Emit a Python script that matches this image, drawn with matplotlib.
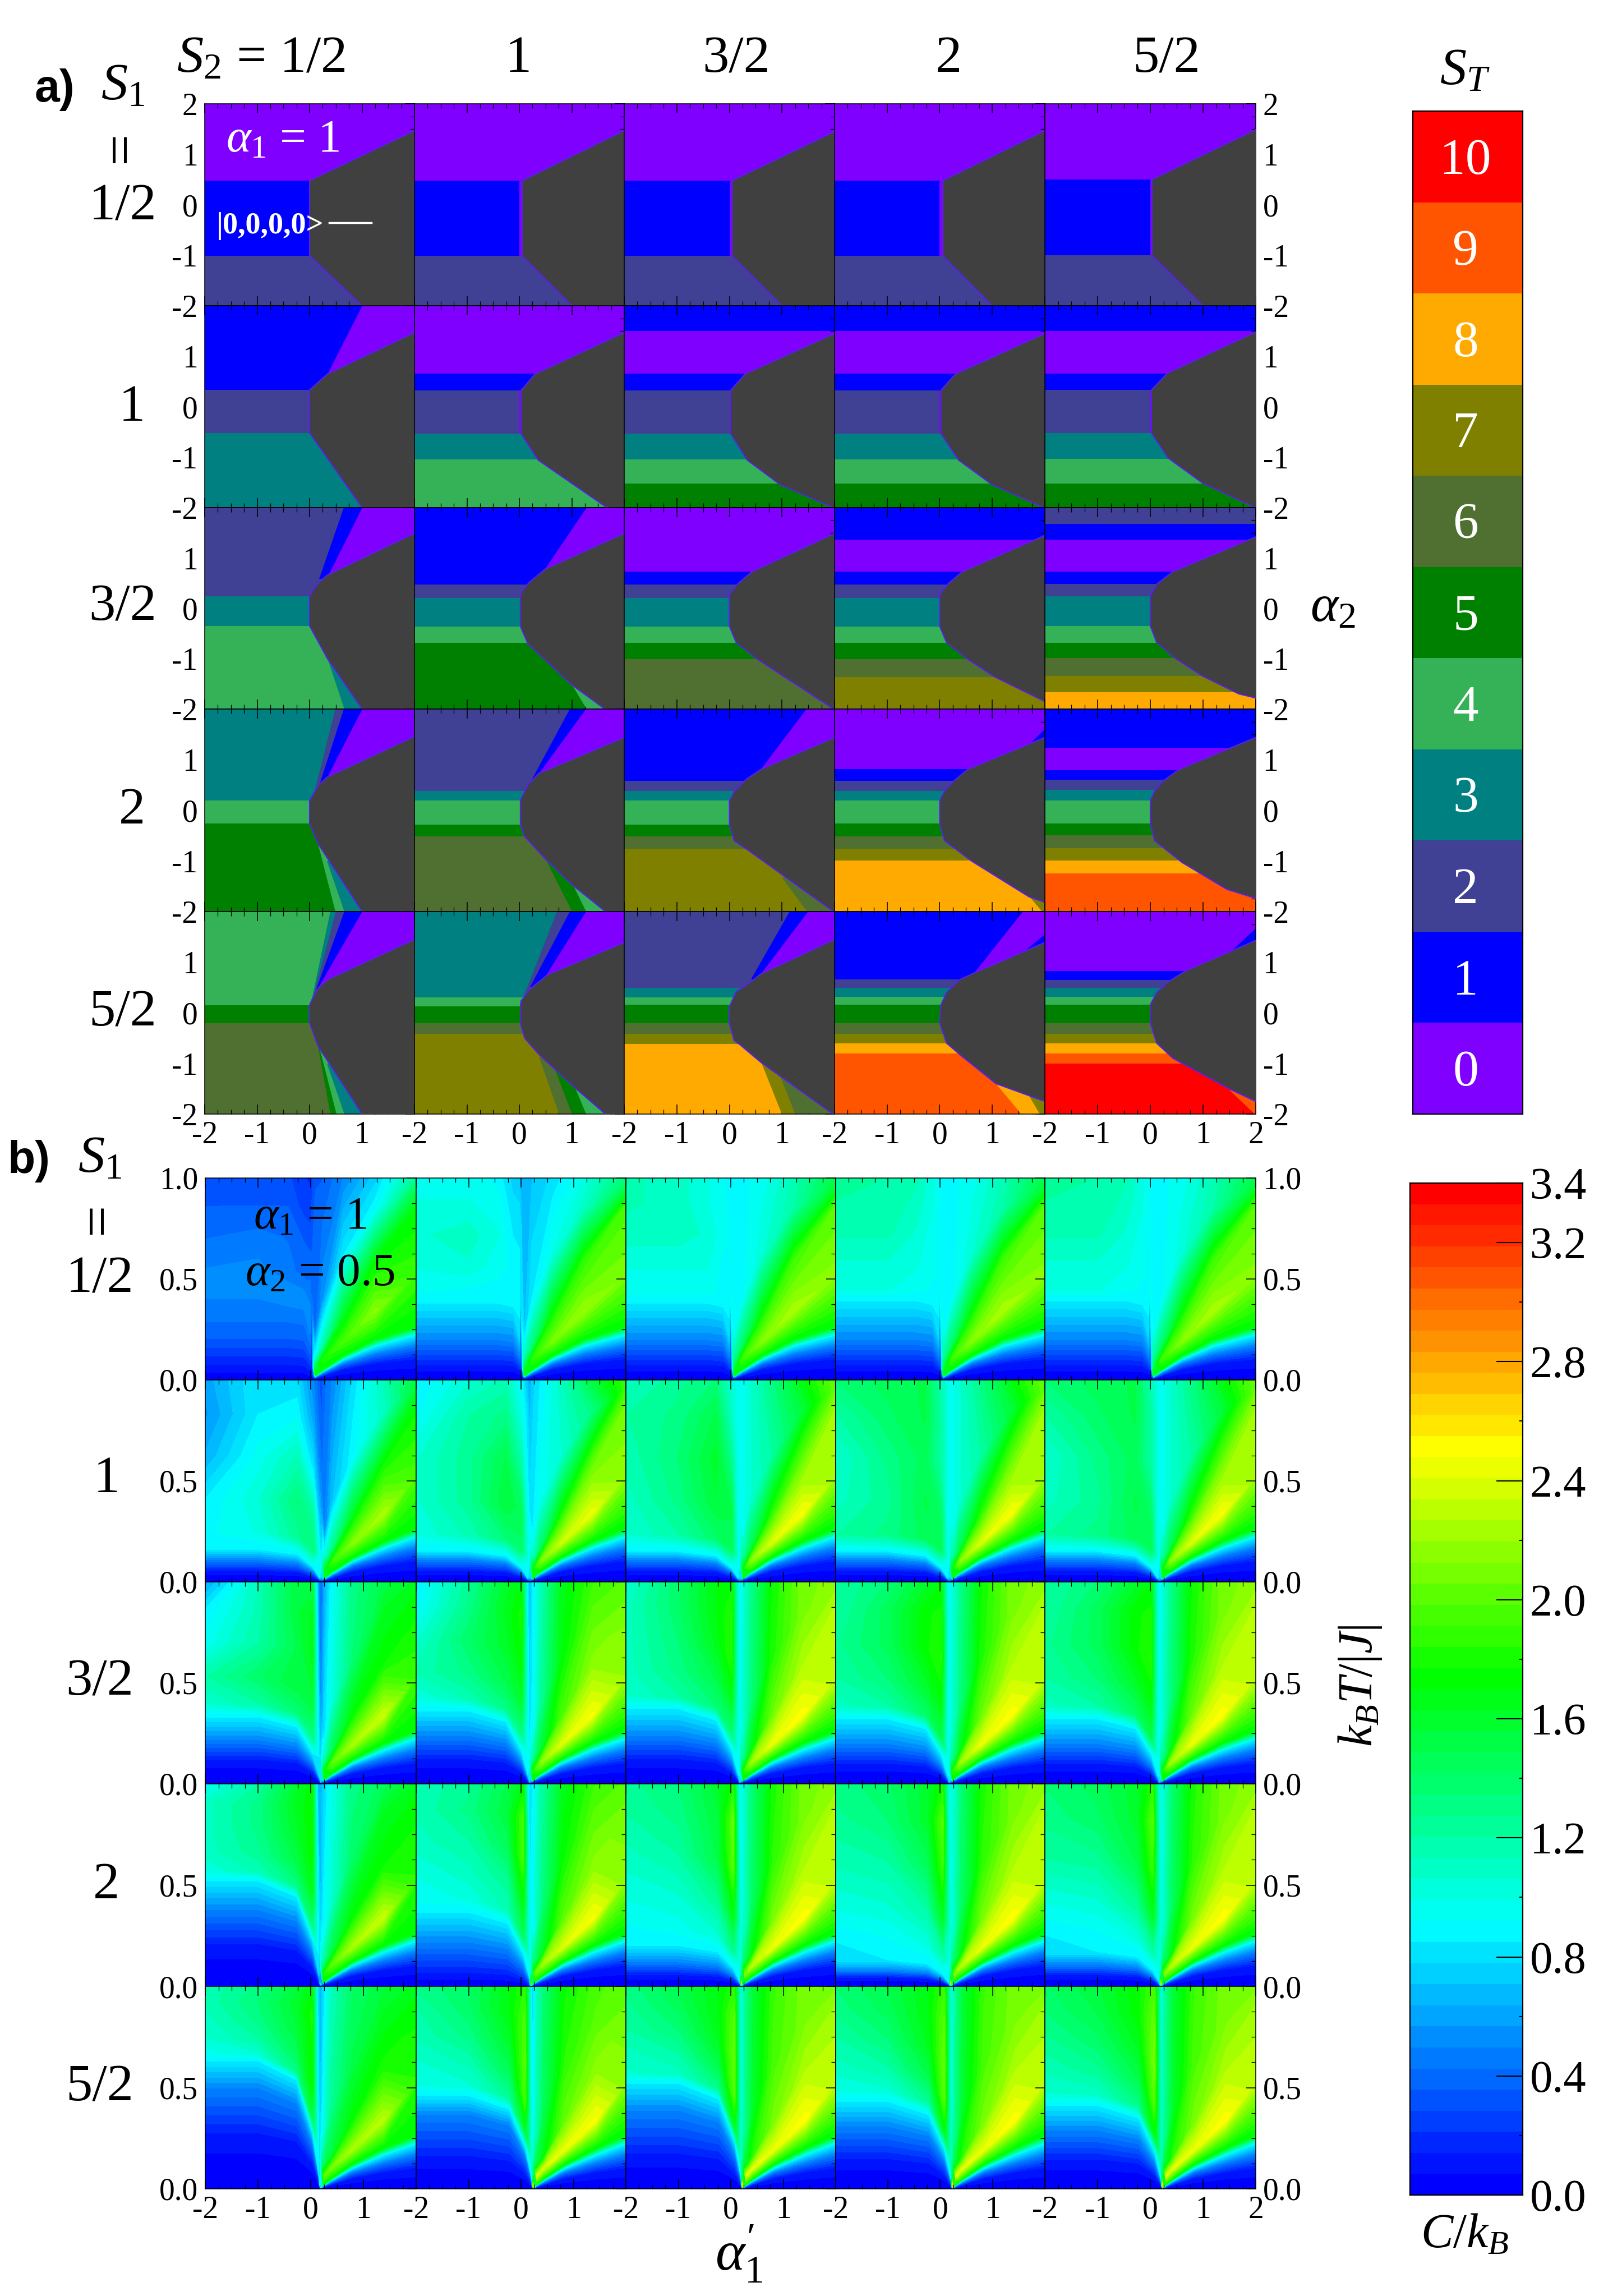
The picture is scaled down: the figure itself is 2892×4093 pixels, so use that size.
import numpy as np
import matplotlib
matplotlib.use("Agg")
import matplotlib.pyplot as plt
from matplotlib.colors import LinearSegmentedColormap, BoundaryNorm, ListedColormap
from matplotlib.ticker import MultipleLocator

plt.rcParams.update({
    "font.family": "Liberation Serif",
    "mathtext.fontset": "custom",
    "mathtext.rm": "Liberation Serif",
    "mathtext.it": "Liberation Serif:italic",
    "mathtext.bf": "Liberation Serif:bold",
})

W, H = 2892, 4093
DPI = 100

# ---------------------------------------------------------------- labels
S_LABELS = ["1/2", "1", "3/2", "2", "5/2"]
ST_COLORS = ["#8000FF", "#0000FF", "#404095", "#008080", "#35B258", "#008000",
             "#4F7030", "#808000", "#FFAA00", "#FF5500", "#FF0000"]
GRAY = "#404040"
EDGE = "#5A1EF5"

# ---------------------------------------------------------------- panel a: spin bands, top to bottom
A_STATES = [
    [[0, 1, 2], [0, 1, 2], [0, 1, 2], [0, 1, 2], [0, 1, 2]],
    [[1, 2, 3], [0, 1, 2, 3, 4], [1, 0, 1, 2, 3, 4, 5], [1, 0, 1, 2, 3, 4, 5], [1, 0, 1, 2, 3, 4, 5]],
    [[2, 3, 4], [1, 2, 3, 4, 5], [0, 1, 2, 3, 4, 5, 6], [1, 0, 1, 2, 3, 4, 5, 6, 7], [2, 1, 0, 1, 2, 3, 4, 5, 6, 7, 8]],
    [[3, 4, 5], [2, 3, 4, 5, 6], [1, 2, 3, 4, 5, 6, 7], [0, 1, 2, 3, 4, 5, 6, 7, 8], [1, 0, 1, 2, 3, 4, 5, 6, 7, 8, 9]],
    [[4, 5, 6], [3, 4, 5, 6, 7], [2, 3, 4, 5, 6, 7, 8], [1, 2, 3, 4, 5, 6, 7, 8, 9], [0, 1, 2, 3, 4, 5, 6, 7, 8, 9, 10]],
]
A_BREAKS = [
    [[.48, -1.01], [.48, -1.01], [.48, -1.01], [.48, -1.01], [.5, -1.0]],
    [[.33, -.52], [.65, .32, -.53, -1.04], [1.5, .65, .32, -.53, -1.04, -1.52],
     [1.5, .65, .32, -.53, -1.04, -1.52], [1.5, .66, .33, -.52, -1.03, -1.52]],
    [[.24, -.35], [.47, .21, -.36, -.68], [.73, .47, .21, -.36, -.68, -1.01],
     [1.36, .73, .47, .21, -.36, -.68, -1.01, -1.36],
     [1.68, 1.36, .73, .49, .24, -.35, -.68, -.99, -1.34, -1.67]],
    [[.19, -.26], [.38, .19, -.28, -.51], [.58, .38, .19, -.28, -.51, -.76],
     [.81, .58, .38, .19, -.26, -.51, -.76, -.99],
     [1.24, .79, .6, .4, .19, -.26, -.49, -.75, -.99, -1.25]],
    [[.15, -.2], [.31, .13, -.21, -.41], [.49, .31, .16, -.21, -.41, -.61],
     [.66, .49, .32, .16, -.2, -.41, -.6, -.8],
     [.83, .65, .49, .32, .16, -.2, -.41, -.6, -.8, -1.0]],
]
# wedges: state, far end (x, y), pivot on the gray boundary (x, y)
A_WEDGES = [
    [[], [(0, 0, .48, 0, -1.01)], [(0, 0, .48, 0, -1.01)], [(0, 0, .48, 0, -1.01)], [(0, 0, .5, 0, -1.0)]],
    [[(0, 1.0, 2, .34, .65)],
     [(0, 0, .32, 0, -.53)], [(0, 0, .32, 0, -.53)], [(0, 0, .32, 0, -.53)], [(0, 0, .33, 0, -.52)]],
    [[(1, .65, 2, .18, .59), (0, 1.0, 2, .37, .68), (3, .66, -2, .34, -1.0)],
     [(0, 1.28, 2, .49, .78), (4, 1.28, -2, 1.0, -1.52)], [], [], []],
    [[(2, .49, 2, .1, .38), (1, .65, 2, .16, .42), (0, 1.0, 2, .34, .66), (4, .49, -2, .16, -.66), (3, .66, -2, .33, -1.0)],
     [(1, .96, 2, .14, .42), (0, 1.27, 2, .37, .73), (5, 1.0, -2, .52, -1.01), (4, 1.27, -2, 1.03, -1.48)],
     [(0, 1.47, 2, .6, .81), (6, 1.48, -2, 1.0, -1.32)],
     [(1, 2, 1.6, 1.65, 1.25), (7, 1.95, -2, 1.72, -1.72)],
     []],
    [[(3, .4, 2, .03, .22), (2, .5, 2, .08, .35), (1, .66, 2, .13, .47), (0, 1.0, 2, .17, .5),
      (5, .4, -2, .16, -.66), (4, .51, -2, .2, -.75), (3, .66, -2, .33, -1.0)],
     [(2, .72, 2, .1, .36), (1, .96, 2, .2, .5), (0, 1.27, 2, .5, .73),
      (6, .76, -2, .37, -.87), (5, 1.0, -2, .65, -1.05), (4, 1.27, -2, 1.06, -1.47)],
     [(1, 1.15, 2, .41, .66), (0, 1.5, 2, .6, .77), (7, 1.0, -2, .6, -.97), (6, 1.25, -2, .95, -1.22)],
     [(0, 1.58, 2, .68, .81), (1, 2, 1.55, 1.6, 1.2), (8, 1.55, -2, 1.07, -1.4), (7, 1.9, -2, 1.7, -1.65)],
     [(1, 2, 1.67, 1.5, 1.18), (9, 1.98, -2, 1.5, -1.52)]],
]
# gray region: its boundary from the top right down to the bottom
A_GRAY = [
    [[(2, 1.47), (0, .48), (0, -1.01), (1.0, -2)],
     [(2, 1.47), (.05, .48), (.05, -1.01), (1.0, -2)],
     [(2, 1.45), (.05, .48), (.05, -1.01), (1.0, -2)],
     [(2, 1.47), (.06, .48), (.06, -1.01), (1.0, -2)],
     [(2, 1.49), (.03, .5), (.03, -1.0), (1.0, -2)]],
    [[(2, 1.47), (.34, .65), (0, .33), (0, -.52), (1.0, -2)],
     [(2, 1.47), (.3, .65), (.03, .32), (.03, -.53), (.36, -1.06), (1.67, -2)],
     [(2, 1.45), (.3, .65), (.02, .32), (.02, -.53), (.34, -1.06), (.96, -1.54), (1.98, -2)],
     [(2, 1.45), (.3, .65), (.02, .32), (.02, -.53), (.36, -1.06), (.99, -1.54), (1.98, -2)],
     [(2, 1.48), (.33, .67), (.02, .33), (.02, -.52), (.34, -1.02), (1.0, -1.52), (2, -2)]],
    [[(2, 1.49), (.37, .68), (.3, .63), (.14, .47), (.02, .28), (0, .24), (0, -.35), (.34, -1.0), (1.0, -2)],
     [(2, 1.49), (.49, .78), (.18, .51), (.02, .28), (.02, -.36), (.16, -.7), (1.0, -1.52), (1.63, -2)],
     [(2, 1.49), (.43, .73), (.17, .5), (0, .27), (0, -.36), (.13, -.68), (.53, -1.01), (1.98, -2)],
     [(2, 1.45), (.43, .73), (.17, .5), (0, .27), (0, -.36), (.13, -.68), (.53, -1.01), (1.04, -1.36), (2, -1.85)],
     [(2, 1.42), (.43, .73), (.13, .49), (0, .24), (0, -.35), (.12, -.68), (.47, -.99), (.98, -1.34), (1.68, -1.7), (2, -1.78)]],
    [[(2, 1.46), (.34, .66), (.17, .5), (0, .19), (0, -.26), (.16, -.66), (1.0, -2)],
     [(2, 1.44), (.37, .73), (.16, .5), (.02, .2), (.02, -.28), (.1, -.52), (.53, -1.0), (1.04, -1.5), (1.64, -2)],
     [(2, 1.44), (.6, .81), (.33, .62), (.1, .38), (0, .19), (0, -.28), (.09, -.6), (.37, -.8), (1.0, -1.27), (1.98, -2)],
     [(2, 1.44), (.53, .81), (.29, .6), (.09, .38), (0, .19), (0, -.26), (.09, -.6), (.6, -1.0), (1.7, -1.71), (2, -1.82)],
     [(2, 1.44), (.55, .81), (.27, .6), (.08, .38), (0, .19), (0, -.26), (.08, -.6), (.6, -1.03), (1.45, -1.56), (2, -1.74)]],
    [[(2, 1.45), (.35, .66), (.17, .5), (.04, .25), (0, .15), (0, -.2), (.16, -.66), (1.0, -2)],
     [(2, 1.39), (.55, .76), (.2, .47), (.03, .23), (.02, .13), (.02, -.21), (.1, -.5), (.37, -.82), (1.08, -1.5), (1.64, -2)],
     [(2, 1.45), (.6, .77), (.3, .53), (.13, .42), (0, .12), (0, -.21), (.09, -.55), (.2, -.63), (.6, -.98), (1.97, -2)],
     [(2, 1.39), (.68, .8), (.37, .65), (.13, .4), (.02, .15), (0, -.2), (.13, -.6), (.41, -.85), (1.07, -1.4), (2, -1.75)],
     [(2, 1.43), (.67, .83), (.35, .62), (.12, .4), (0, .16), (0, -.2), (.12, -.6), (.43, -.9), (1.53, -1.52), (2, -1.75)]],
]

# ---------------------------------------------------------------- panel b: heat capacity
B_APEX = [[.02, 0, 0, 0, 0], [.2, .16, .17, .17, .17], [.19, .16, .17, .17, .17],
          [.18, .19, .2, .2, .2], [.18, .23, .22, .23, .23]]
# temperature where the left part reaches C = .1, .5, .85
B_LOW_T = [
    [(.05, .2, .35), (.06, .2, .38), (.06, .2, .38), (.06, .2, .39), (.06, .2, .39)],
    [(.05, .11, .16), (.05, .11, .15), (.05, .11, .15), (.05, .11, .15), (.05, .11, .15)],
    [(.11, .22, .33), (.11, .24, .36), (.11, .24, .37), (.09, .2, .32), (.09, .2, .32)],
    [(.19, .38, .52), (.05, .22, .365), (.05, .12, .2), (.04, .08, .13), (.05, .11, .17)],
    [(.25, .5, .63), (.14, .37, .46), (.15, .39, .52), (.13, .31, .43), (.13, .29, .41)],
]
B_LOW_C = (.1, .5, .85)
B_LOW_C_FIRST = (.1, .35, .48)
# left part: rows bottom to top, columns x = -2, -1, apex-.45, apex-.15, apex-.03
L11 = [[.5, .5, .55, .55, .55], [.5, .52, .45, .4, .45], [.42, .45, .42, .35, .35], [.35, .35, .35, .25, .25], [.3, .3, .3, .22, .2]]
L12 = [[.95, .9, .9, .9, .85], [1.0, 1.05, .95, .9, .9], [1.05, 1.1, 1.0, .85, .85], [1.0, 1.0, .95, .8, .8], [.95, .95, .9, .75, .7]]
L13 = [[.95, .95, .95, .9, .85], [1.0, 1.0, 1.0, .9, .9], [1.1, 1.1, 1.05, .95, .9], [1.15, 1.1, 1.0, .95, .9], [1.15, 1.1, 1.0, .95, .85]]
L14 = [[1.0, 1.0, .95, .9, .85], [1.05, 1.05, 1.0, .95, .9], [1.15, 1.15, 1.05, .95, .9], [1.2, 1.2, 1.1, 1.0, .9], [1.25, 1.2, 1.15, 1.0, .95]]
L21 = [[.9, 1.0, 1.25, 1.35, .95], [.85, 1.05, 1.35, 1.2, .7], [.65, .95, 1.15, .8, .5], [.55, .85, .9, .6, .4], [.6, .85, .8, .5, .35]]
L22 = [[1.0, 1.15, 1.35, 1.4, 1.0], [1.05, 1.25, 1.55, 1.45, .95], [1.05, 1.25, 1.5, 1.2, .85], [.9, 1.2, 1.3, 1.0, .8], [.85, 1.05, 1.15, .9, .7]]
L23 = [[1.05, 1.2, 1.4, 1.45, 1.0], [1.1, 1.3, 1.55, 1.5, .95], [1.15, 1.35, 1.6, 1.3, .95], [1.2, 1.3, 1.5, 1.1, .95], [1.1, 1.25, 1.35, 1.05, .95]]
L24 = [[1.2, 1.3, 1.45, 1.45, 1.0], [1.1, 1.25, 1.5, 1.4, .95], [1.05, 1.3, 1.45, 1.2, 1.0], [1.2, 1.4, 1.5, 1.2, 1.0], [1.35, 1.45, 1.5, 1.15, 1.0]]
L31 = [[1.05, 1.2, 1.35, 1.3, .85], [1.2, 1.4, 1.55, 1.55, .75], [.95, 1.2, 1.5, 1.65, .65], [.85, 1.15, 1.55, 1.65, .55], [.6, 1.15, 1.55, 1.5, .5]]
L32 = [[1.0, 1.15, 1.3, 1.3, .9], [1.15, 1.3, 1.5, 1.6, .95], [1.05, 1.4, 1.6, 1.75, .95], [.9, 1.3, 1.65, 1.8, .9], [.85, 1.25, 1.6, 1.7, .85]]
L33 = [[1.05, 1.2, 1.35, 1.35, .95], [1.1, 1.3, 1.5, 1.65, 1.0], [1.1, 1.35, 1.65, 1.85, 1.05], [1.1, 1.4, 1.7, 1.85, 1.05], [1.05, 1.4, 1.7, 1.75, 1.0]]
L34 = [[1.1, 1.2, 1.4, 1.5, 1.0], [1.2, 1.35, 1.6, 1.7, 1.0], [1.25, 1.45, 1.75, 1.85, 1.05], [1.2, 1.45, 1.75, 1.8, 1.05], [1.2, 1.35, 1.6, 1.7, 1.0]]
L41 = [[1.0, 1.15, 1.3, 1.35, .85], [1.1, 1.25, 1.5, 1.65, .85], [1.1, 1.3, 1.6, 1.75, .8], [1.1, 1.3, 1.65, 1.75, .7], [.95, 1.2, 1.6, 1.75, .6]]
L42 = [[.95, 1.0, 1.15, 1.45, 1.0], [1.0, 1.1, 1.25, 1.7, .95], [1.1, 1.2, 1.45, 1.95, .9], [1.15, 1.3, 1.55, 1.95, .85], [1.15, 1.25, 1.5, 1.7, .8]]
L43 = [[.9, .95, 1.05, 1.3, 1.0], [1.0, 1.05, 1.25, 1.7, 1.1], [1.1, 1.2, 1.5, 2.0, 1.05], [1.2, 1.3, 1.55, 2.05, .95], [1.25, 1.35, 1.6, 1.8, .95]]
L44 = [[.85, .9, 1.0, 1.2, 1.0], [1.0, 1.05, 1.2, 1.65, 1.1], [1.15, 1.2, 1.45, 1.9, 1.1], [1.25, 1.35, 1.6, 2.0, 1.0], [1.3, 1.4, 1.6, 1.8, .95]]
L45 = [[.85, .9, 1.0, 1.2, 1.0], [1.0, 1.05, 1.25, 1.65, 1.1], [1.2, 1.25, 1.5, 1.9, 1.1], [1.3, 1.4, 1.6, 2.0, 1.05], [1.35, 1.45, 1.6, 1.85, 1.0]]
L51 = [[.95, 1.05, 1.3, 1.5, .9], [1.05, 1.2, 1.45, 1.75, .85], [1.1, 1.3, 1.55, 1.75, .8], [1.15, 1.35, 1.6, 1.8, .75], [1.15, 1.3, 1.55, 1.7, .75]]
L52 = [[1.0, 1.05, 1.25, 1.6, 1.05], [1.05, 1.15, 1.45, 1.95, .95], [1.15, 1.3, 1.6, 2.0, .9], [1.2, 1.4, 1.7, 1.95, .9], [1.3, 1.4, 1.7, 1.85, .85]]
L53 = [[1.05, 1.1, 1.3, 1.65, 1.1], [1.1, 1.2, 1.5, 2.0, 1.05], [1.2, 1.35, 1.65, 2.05, 1.0], [1.25, 1.45, 1.7, 2.0, 1.0], [1.3, 1.5, 1.7, 1.85, 1.0]]
L54 = [[1.0, 1.05, 1.25, 1.65, 1.1], [1.1, 1.2, 1.5, 2.0, 1.05], [1.2, 1.35, 1.65, 2.05, 1.05], [1.3, 1.45, 1.7, 2.0, 1.05], [1.35, 1.5, 1.7, 1.9, 1.05]]
L55 = [[1.05, 1.1, 1.3, 1.7, 1.15], [1.15, 1.25, 1.5, 2.0, 1.1], [1.25, 1.4, 1.65, 2.1, 1.1], [1.35, 1.5, 1.75, 2.05, 1.05], [1.4, 1.55, 1.75, 1.95, 1.05]]
B_LEFT = [[L11, L12, L13, L14, L14], [L21, L22, L23, L24, L24], [L31, L32, L33, L34, L34],
          [L41, L42, L43, L44, L45], [L51, L52, L53, L54, L55]]

# apex column, temperatures and values
APEX_T = [.01, .02, .04, .08, .15, .35, .65, 1.0]
APX = {"A": [.03, .05, .08, .12, .25, .45, .35, .25], "B": [.03, .05, .08, .12, .3, .8, .85, .65],
       "C": [.03, .05, .08, .12, .3, .85, .95, .9], "D": [.5, .7, .85, .85, .8, .6, .4, .3],
       "E": [.5, .7, .85, .85, .9, .85, .75, .6], "F": [.6, .75, .85, .85, .9, .9, .95, .95],
       "G": [.7, .8, .85, .8, .7, .55, .45, .4], "H": [.7, .8, .85, .85, .8, .75, .75, .65],
       "I": [.75, .85, .85, .9, .9, .9, .95, .95], "J": [1, .6, .5, .6, .8, .7, .65, .65],
       "K": [2, 2, 1.6, 1, .85, .85, .85, .8], "L": [2.4, 2.3, 1.8, 1.2, .95, .95, .95, 1.0],
       "M": [1.5, 1.1, .9, .75, .75, .7, .65, .65], "N": [2.6, 2.4, 1.8, 1.2, .95, .85, .85, .8],
       "O": [2.8, 2.6, 2.0, 1.4, 1.1, 1.05, 1.05, 1.05]}
# right part: offsets from apex (the last column is x = 2); temperature of each mesh row
RIGHT_OFF = [.06, .2, .6, 1.2]
RIGHT_T = [[.007, .018, .05, .08, .10],
           [.011, .03, .08, .125, .165],
           [.015, .04, .10, .165, .22],
           [.018, .048, .12, .20, .265],
           [.06, .10, .19, .34, .52],
           [.12, .16, .33, .60, .86],
           [.25, .40, .62, .85, .95],
           [1.0, 1.0, 1.0, 1.0, 1.0]]
RIGHT_LOW = [.12, .45, .85, 1.7]
RGT = {"A": [[1.5, 1.8, 1.95, 2.15, 1.9], [.9, 1.2, 1.6, 1.7, 1.7], [.4, .55, .85, .9, 1.45], [.35, .35, .5, .75, 1.25]],
       "B": [[1.5, 1.85, 2.1, 2.2, 2.1], [1.1, 1.35, 1.75, 1.85, 1.95], [.7, .85, 1.0, 1.1, 1.5], [.7, .7, .8, 1.0, 1.35]],
       "C": [[1.5, 1.9, 2.15, 2.25, 2.15], [1.2, 1.4, 1.75, 1.9, 2.0], [.85, .9, 1.05, 1.2, 1.6], [.85, .9, .95, 1.15, 1.5]],
       "D": [[1.6, 1.9, 2.15, 2.25, 1.95], [1.05, 1.3, 1.65, 1.75, 1.75], [.5, .7, .9, 1.1, 1.6], [.4, .5, .8, 1.15, 1.55]],
       "E": [[1.7, 2.1, 2.35, 2.45, 2.15], [1.1, 1.4, 1.8, 2.0, 2.1], [.85, .95, 1.05, 1.3, 1.9], [.75, .85, 1.1, 1.55, 1.9]],
       "F": [[1.7, 2.15, 2.4, 2.5, 2.2], [1.2, 1.5, 1.85, 2.05, 2.2], [.95, 1.05, 1.2, 1.55, 2.05], [.95, 1.05, 1.3, 1.7, 2.05]],
       "G": [[1.7, 2.0, 2.25, 2.35, 1.9], [1.1, 1.45, 1.75, 1.75, 1.75], [.8, 1.0, 1.35, 1.65, 1.7], [.6, .9, 1.3, 1.5, 1.65]],
       "H": [[1.8, 2.15, 2.4, 2.5, 2.2], [1.2, 1.55, 1.95, 2.15, 2.1], [.9, 1.2, 1.7, 2.0, 2.0], [.85, 1.1, 1.65, 1.9, 2.0]],
       "I": [[1.8, 2.2, 2.45, 2.52, 2.3], [1.25, 1.65, 2.05, 2.25, 2.3], [1.05, 1.3, 1.8, 2.1, 2.2], [1.0, 1.25, 1.75, 2.1, 2.15]],
       "J": [[1.8, 2.0, 2.25, 2.35, 1.85], [1.2, 1.5, 1.75, 1.75, 1.75], [.9, 1.05, 1.4, 1.65, 1.7], [.75, .95, 1.3, 1.45, 1.65]],
       "K": [[2.0, 2.2, 2.4, 2.5, 2.15], [1.35, 1.6, 2.0, 2.15, 2.1], [1.0, 1.3, 1.75, 2.0, 2.0], [.95, 1.2, 1.65, 1.9, 2.0]],
       "L": [[2.1, 2.3, 2.45, 2.52, 2.3], [1.4, 1.7, 2.1, 2.25, 2.3], [1.1, 1.4, 1.85, 2.1, 2.2], [1.05, 1.35, 1.8, 2.1, 2.15]],
       "M": [[2.0, 2.1, 2.25, 2.3, 1.85], [1.4, 1.55, 1.75, 1.8, 1.75], [1.0, 1.25, 1.5, 1.65, 1.7], [.8, 1.1, 1.4, 1.55, 1.65]],
       "N": [[2.4, 2.4, 2.45, 2.5, 2.15], [1.5, 1.7, 2.05, 2.15, 2.1], [1.15, 1.45, 1.85, 2.0, 2.0], [1.1, 1.35, 1.75, 1.95, 2.05]],
       "O": [[2.4, 2.45, 2.45, 2.52, 2.3], [1.6, 1.85, 2.1, 2.25, 2.25], [1.3, 1.6, 1.95, 2.1, 2.15], [1.25, 1.55, 1.9, 2.1, 2.1]]}
B_TYPE = ["ABCCC", "DEFFF", "GHIII", "JKLLL", "MNOOO"]
LEFT_SCALE = [1, 1, .85, .45, .12]
LEFT_SCALE_FIRST_ROW = [1, 1, 1, .95, .6]
LEFT_OFF = [.45, .15, .03]
UP_FRAC = [.1, .3, .55, .8, 1.0]

# ---------------------------------------------------------------- geometry
AX = [365, 739, 1113, 1488, 1863, 2239]
AY = [185, 545, 905, 1264, 1625, 1986]
BX = [366, 742, 1116, 1490, 1863, 2239]
BY = [2100, 2460, 2820, 3180, 3541, 3902]

fig = plt.figure(figsize=(W / DPI, H / DPI), dpi=DPI, facecolor="white")


def axpx(x0, y0, x1, y1):
    return fig.add_axes([x0 / W, 1 - y1 / H, (x1 - x0) / W, (y1 - y0) / H])


def t(x, y, s, size, **kw):
    kw.setdefault("ha", "center")
    kw.setdefault("va", "center")
    fig.text(x / W, 1 - y / H, s, fontsize=size, **kw)


def style(ax, yminor, ymajor):
    ax.xaxis.set_major_locator(MultipleLocator(1))
    ax.xaxis.set_minor_locator(MultipleLocator(.25))
    ax.yaxis.set_major_locator(MultipleLocator(ymajor))
    ax.yaxis.set_minor_locator(MultipleLocator(yminor))
    ax.tick_params(which="major", direction="in", length=12, width=1.1, top=True, bottom=True,
                   right=True, left=False, labelleft=False, labelbottom=False, labelsize=40, pad=9)
    ax.tick_params(which="minor", direction="in", length=6, width=.9, top=True, bottom=True,
                   right=True, left=False)
    for s in ax.spines.values():
        s.set_linewidth(1.1)


# ---------------------------------------------------------------- panel a
for r in range(5):
    for c in range(5):
        ax = axpx(AX[c], AY[r], AX[c + 1], AY[r + 1])
        ax.set_xlim(-2, 2)
        ax.set_ylim(-2, 2)
        edges = [2] + A_BREAKS[r][c] + [-2]
        for k, st in enumerate(A_STATES[r][c]):
            ax.axhspan(edges[k + 1], edges[k], color=ST_COLORS[st], lw=0, zorder=1)
        for st, ex, ey, px, py in A_WEDGES[r][c]:
            ax.fill([ex, 2, 2, px], [ey, ey, py, py], color=ST_COLORS[st], lw=0, zorder=2)
        gx = [p[0] for p in A_GRAY[r][c]]
        gy = [p[1] for p in A_GRAY[r][c]]
        ax.fill(gx + [2], gy + [gy[-1]], color=GRAY, lw=0, zorder=3)
        ax.plot(gx, gy, color=EDGE, lw=1.5, zorder=4, solid_joinstyle="round")
        style(ax, .25, 1)
        ax.set_yticks([-2, -1, 0, 1, 2])
        ax.set_yticklabels(["-2", "-1", "0", "1", "2" if r == 0 else ""])
        ax.set_xticks([-2, -1, 0, 1, 2])
        ax.set_xticklabels(["-2", "-1", "0", "1", "2" if c == 4 else ""])
        if c == 0:
            ax.tick_params(labelleft=True, left=False)
        if c == 4:
            ax.tick_params(labelright=True)
        if r == 4:
            ax.tick_params(labelbottom=True)
        if r == 0 and c == 0:
            ax.plot([.37, 1.18], [-.35, -.35], color="white", lw=2.5, zorder=6)

# ---------------------------------------------------------------- panel b
C_LEVELS = np.linspace(0, 3.4, 49)
CMAP = LinearSegmentedColormap.from_list(
    "ck", [(0, "#0000FF"), (.26, "#00FFFF"), (.51, "#00FF00"), (.74, "#FFFF00"), (1, "#FF0000")], N=256)
NORM = BoundaryNorm(C_LEVELS, CMAP.N)

for r in range(5):
    for c in range(5):
        ax = axpx(BX[c], BY[r], BX[c + 1], BY[r + 1])
        apex = B_APEX[r][c]
        xs = [-2, -1] + [apex - o for o in LEFT_OFF] + [apex] + [apex + o for o in RIGHT_OFF] + [2]
        t1, t2, t3 = B_LOW_T[r][c]
        low_c = B_LOW_C_FIRST if (r == 0 and c == 0) else B_LOW_C
        left = B_LEFT[r][c]
        key = B_TYPE[r][c]
        scales = LEFT_SCALE_FIRST_ROW if r == 0 else LEFT_SCALE
        T = np.zeros((9, len(xs)))
        Z = np.zeros((9, len(xs)))
        for i, s in enumerate(scales):
            T[1:4, i] = [s * t1, s * t2, s * t3]
            Z[1:4, i] = low_c
            for j, f in enumerate(UP_FRAC):
                T[4 + j, i] = s * t3 + f * (1 - s * t3)
                Z[4 + j, i] = left[j][i]
        T[1:, 5] = APEX_T
        Z[1:, 5] = APX[key]
        for j in range(8):
            for i in range(5):
                T[j + 1, 6 + i] = RIGHT_T[j][i]
                Z[j + 1, 6 + i] = RIGHT_LOW[j] if j < 4 else RGT[key][j - 4][i]
        X = np.tile(np.array(xs), (9, 1))
        ax.contourf(X, T, Z, levels=C_LEVELS, cmap=CMAP, norm=NORM, extend="both")
        ax.set_xlim(-2, 2)
        ax.set_ylim(0, 1)
        style(ax, .125, .5)
        ax.set_yticks([0, .5, 1])
        ax.set_yticklabels(["0.0", "0.5", "1.0" if r == 0 else ""])
        ax.set_xticks([-2, -1, 0, 1, 2])
        ax.set_xticklabels(["-2", "-1", "0", "1", "2" if c == 4 else ""])
        if c == 0:
            ax.tick_params(labelleft=True)
        if c == 4:
            ax.tick_params(labelright=True)
        if r == 4:
            ax.tick_params(labelbottom=True)

# ---------------------------------------------------------------- colour bars
ST_VALUES = np.arange(11)
cb = axpx(2519, 198, 2715, 1986)
cb.pcolormesh([0, 1], np.arange(12), ST_VALUES.reshape(-1, 1),
              cmap=ListedColormap(ST_COLORS), vmin=-.5, vmax=10.5)
cb.set_ylim(0, 11)
cb.set_xticks([])
cb.set_yticks([])
for st in ST_VALUES:
    cb.text(.48, st + .45, str(st), color="white", fontsize=66, ha="center", va="center")
for s in cb.spines.values():
    s.set_linewidth(1.6)

cb2 = axpx(2514, 2109, 2715, 3913)
mids = (C_LEVELS[:-1] + C_LEVELS[1:]) / 2
cb2.pcolormesh([0, 1], C_LEVELS, mids.reshape(-1, 1), cmap=CMAP, norm=NORM)
cb2.set_xticks([])
cb2.set_ylim(0, 3.4)
cb2.yaxis.tick_right()
cb2.set_yticks([0, .4, .8, 1.2, 1.6, 2.0, 2.4, 2.8, 3.2, 3.4])
cb2.set_yticklabels(["0.0", "0.4", "0.8", "1.2", "1.6", "2.0", "2.4", "2.8", "3.2", "3.4"], fontsize=58)
cb2.yaxis.set_minor_locator(MultipleLocator(.2))
cb2.tick_params(which="major", direction="in", length=34, width=1.5, pad=9)
cb2.tick_params(which="minor", direction="in", length=4, width=1.5)
for s in cb2.spines.values():
    s.set_linewidth(1.6)

# ---------------------------------------------------------------- texts
SANS = "Liberation Sans"
t(97, 160, "a)", 58, family=SANS, weight="bold")
t(52, 2070, "b)", 58, family=SANS, weight="bold")
t(219, 155, r"$S_{\mathit{1}}$", 68)
t(219, 262, "=", 72, rotation=90)
t(178, 2067, r"$S_{\mathit{1}}$", 68)
t(178, 2172, "=", 72, rotation=90)
t(465, 106, r"$S_{\mathit{2}}$ = 1/2", 68)
for xx, s in zip([924, 1313, 1691, 2080], S_LABELS[1:]):
    t(xx, 106, s, 68)
for yy, xx, s in zip([369, 727, 1083, 1446, 1806], [219, 235, 219, 235, 219], S_LABELS):
    t(xx, yy, s, 68)
for yy, xx, s in zip([2281, 2637, 2999, 3361, 3722], [178, 190, 178, 190, 178], S_LABELS):
    t(xx, yy, s, 68)
t(2612, 128, r"$S_{T}$", 68)
t(2376, 1085, r"$\alpha_{\mathit{2}}$", 68)
t(2425, 3005, r"$k_{B}T/|J|$", 62, rotation=90)
t(2612, 3985, r"$C/k_{B}$", 62)
t(1318, 4018, r"$\alpha_{\mathit{1}}'$", 72)
t(504, 250, r"$\alpha_{\mathit{1}}$ = 1", 60, color="white")
t(386, 403, "|0,0,0,0>", 39, color="white", weight="bold", ha="left")
t(553, 2170, r"$\alpha_{\mathit{1}}$ = 1", 60)
t(570, 2272, r"$\alpha_{\mathit{2}}$ = 0.5", 60)

fig.savefig("out.png", dpi=DPI, facecolor="white")
